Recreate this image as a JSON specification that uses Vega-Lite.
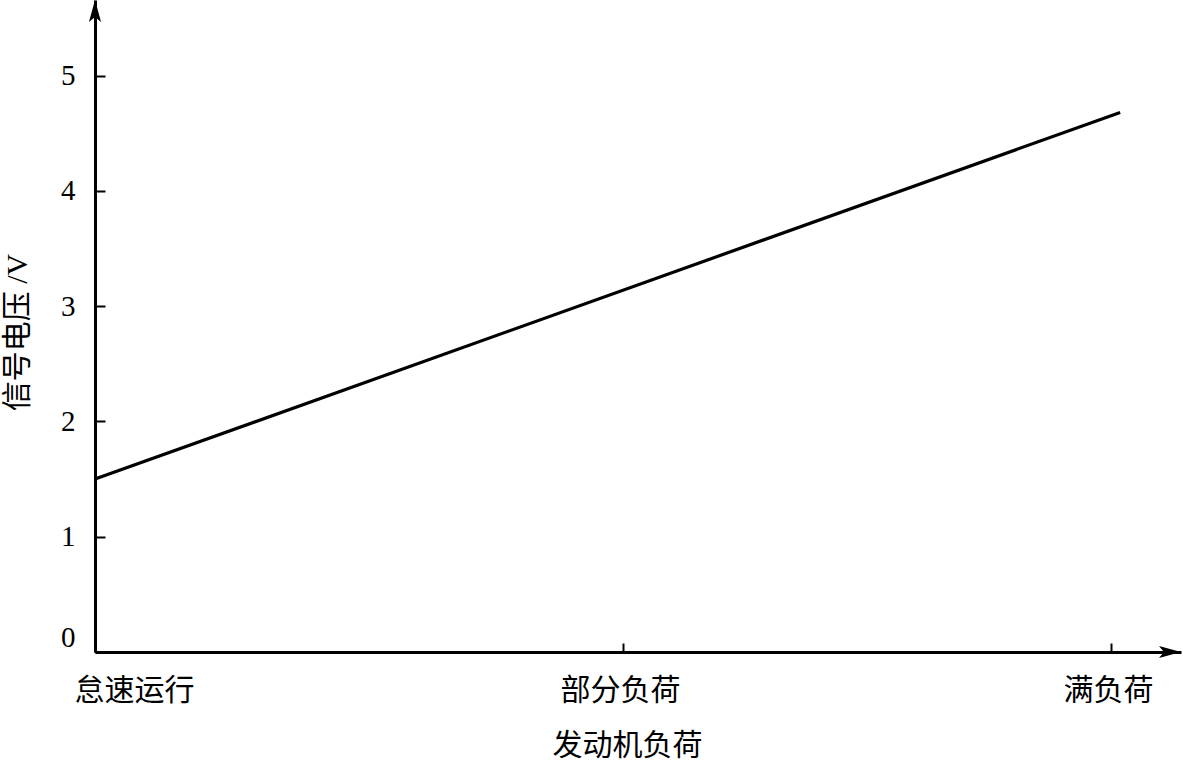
{
  "$schema": "https://vega.github.io/schema/vega-lite/v6.json",
  "width": 1086,
  "height": 652,
  "autosize": {"type": "none"},
  "padding": {"left": 95, "top": 0, "right": 2, "bottom": 110},
  "background": "white",
  "config": {"view": {"stroke": null}, "font": "Liberation Serif, Noto Sans CJK SC"},
  "layer": [
    {
      "data": {"values": [{"load": 0, "voltage": 1.5}, {"load": 1.009, "voltage": 4.68}]},
      "mark": {"type": "line", "color": "black", "strokeWidth": 3.2},
      "encoding": {
        "x": {
          "field": "load", "type": "quantitative",
          "scale": {"domain": [0, 1.0689], "nice": false, "zero": true},
          "axis": {
            "values": [0, 0.5197, 1],
            "labelExpr": "datum.value === 0 ? '怠速运行' : datum.value === 1 ? '满负荷' : '部分负荷'",
            "title": "发动机负荷",
            "grid": false,
            "domainColor": "black", "domainWidth": 3,
            "tickColor": "black", "tickWidth": 2, "tickSize": -9,
            "labelFont": "Noto Sans CJK SC", "labelFontSize": 30, "labelColor": "black",
            "labelBaseline": "middle", "labelPadding": 47,
            "labelFlush": false,
            "labelOffset": {"condition": {"test": "datum.value === 0", "value": 39}, "value": -3},
            "labelOverlap": false,
            "titleFont": "Noto Sans CJK SC", "titleFontSize": 30, "titleFontWeight": "normal", "titleColor": "black",
            "titleX": 532, "titleY": 93, "titleBaseline": "middle", "titleAlign": "center"
          }
        },
        "y": {
          "field": "voltage", "type": "quantitative",
          "scale": {"domain": [0, 5.655], "nice": false, "zero": true},
          "axis": {
            "values": [0, 1, 2, 3, 4, 5],
            "format": "d",
            "title": "信号电压 /V",
            "grid": false,
            "domainColor": "black", "domainWidth": 3,
            "tickColor": "black", "tickWidth": 2, "tickSize": -10,
            "labelFont": "Liberation Serif", "labelFontSize": 29, "labelColor": "black",
            "labelPadding": 30,
            "labelBaseline": {"condition": {"test": "datum.value === 0", "value": "bottom"}, "value": "middle"},
            "titleFont": "Liberation Serif, Noto Sans CJK SC", "titleFontSize": 30, "titleFontWeight": "normal", "titleColor": "black",
            "titleAngle": -90, "titleX": -78, "titleY": 332, "titleAlign": "center", "titleBaseline": "middle"
          }
        }
      }
    },
    {
      "data": {"values": [{"axisName": "x", "load": 1.0689, "voltage": 0}, {"axisName": "y", "load": 0, "voltage": 5.655}]},
      "mark": {"type": "point", "filled": true, "color": "black", "size": 484, "opacity": 1},
      "encoding": {
        "x": {"field": "load", "type": "quantitative"},
        "y": {"field": "voltage", "type": "quantitative"},
        "shape": {
          "field": "axisName", "type": "nominal",
          "scale": {"domain": ["x", "y"], "range": ["M0,0L-2,-0.55L-1.55,0L-2,0.55Z", "M0,0L0.55,2L0,1.55L-0.55,2Z"]},
          "legend": null
        }
      }
    }
  ]
}
